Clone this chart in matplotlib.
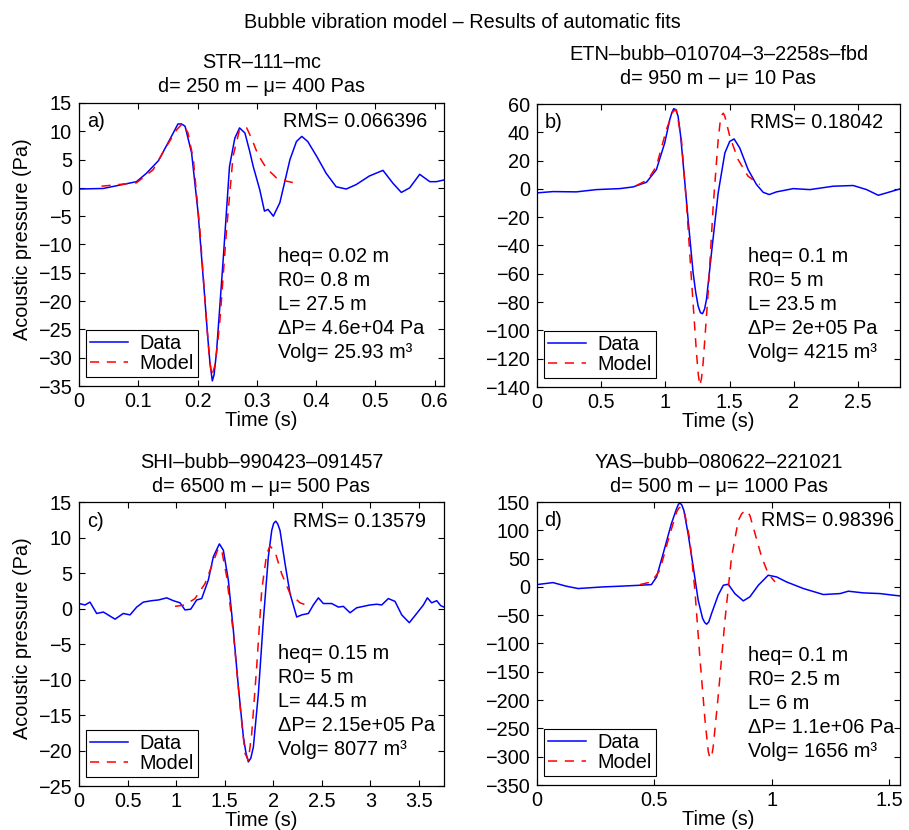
import matplotlib
matplotlib.use("Agg")
import matplotlib.pyplot as plt
from matplotlib.ticker import FuncFormatter

plt.rcParams['font.family'] = ['Liberation Sans', 'DejaVu Sans']
plt.rcParams['axes.unicode_minus'] = True

# ---------------- data ----------------
# panel a
a_data_t = [0, 0.041, 0.097, 0.114, 0.134, 0.153, 0.167, 0.173, 0.179, 0.19, 0.201, 0.212, 0.217, 0.221,
            0.225, 0.228, 0.232, 0.243, 0.254, 0.263, 0.271, 0.28, 0.288, 0.294, 0.305, 0.313, 0.319,
            0.328, 0.339, 0.356, 0.367, 0.376, 0.386, 0.401, 0.417, 0.434, 0.451, 0.468, 0.49, 0.513,
            0.53, 0.544, 0.558, 0.575, 0.592, 0.603, 0.616]
a_data_p = [-0.2, -0.1, 1.1, 2.6, 4.8, 8.5, 11.3, 11.3, 10.9, 6.2, -4.4, -19.1, -26.0, -30.9,
            -34.1, -33.0, -29.1, -13.2, 3.8, 8.8, 10.6, 9.7, 6.5, 3.8, -0.3, -4.1, -3.8,
            -5.0, -2.6, 5.0, 8.2, 9.1, 8.2, 5.6, 2.6, 0.2, -0.2, 0.6, 2.1, 3.1,
            0.8, -0.8, 0.0, 2.4, 1.1, 1.1, 1.4]
a_model_t = [0.038, 0.097, 0.125, 0.148, 0.165, 0.175, 0.184, 0.193, 0.204, 0.215, 0.22, 0.224, 0.229,
             0.234, 0.238, 0.249, 0.26, 0.271, 0.283, 0.291, 0.302, 0.316, 0.333, 0.35, 0.367]
a_model_p = [0.3, 0.9, 3.2, 7.4, 10.3, 11.4, 9.7, 5.0, -7.4, -23.2, -30.0, -33.2, -31.5,
             -27.5, -23.2, -7.4, 5.6, 10.3, 10.6, 8.8, 5.9, 3.5, 1.8, 1.2, 0.8]

# panel b
b_data_t = [0, 0.125, 0.306, 0.462, 0.644, 0.748, 0.852, 0.929, 0.994, 1.033, 1.05, 1.064, 1.08, 1.098,
            1.117, 1.137, 1.176, 1.215, 1.235, 1.254, 1.272, 1.288, 1.304, 1.319, 1.358, 1.41, 1.462,
            1.5, 1.534, 1.578, 1.643, 1.708, 1.76, 1.807, 1.864, 1.994, 2.124, 2.305, 2.461, 2.565,
            2.656, 2.721, 2.825]
b_data_p = [-2.8, -1.9, -2.1, -0.5, 0.2, 1.4, 4.7, 13.6, 32.5, 48.9, 54.0, 56.7, 56.0, 51.3,
            38.0, 18.4, -21.6, -59.3, -73.0, -82.8, -87.5, -88.2, -85.0, -78.1, -45.2, -2.8, 25.4,
            33.6, 35.3, 28.9, 13.6, 3.1, -2.4, -4.0, -2.1, 0.2, -0.5, 1.9, 2.4, -0.5,
            -4.5, -2.8, 0.0]
b_model_t = [0.774, 0.864, 0.929, 1.007, 1.059, 1.085, 1.124, 1.163, 1.202, 1.241, 1.255, 1.267, 1.28,
             1.293, 1.332, 1.371, 1.41, 1.425, 1.441, 1.45, 1.462, 1.5, 1.565, 1.643, 1.734]
b_model_p = [2.4, 6.6, 16.0, 41.9, 54.8, 56.0, 34.8, -9.9, -64.0, -115.8, -131.0, -139.0, -134.0,
             -122.8, -73.4, -12.2, 34.8, 47.0, 52.5, 53.5, 51.3, 37.2, 20.7, 8.9, 3.1]

# panel c
c_data_t = [0, 0.062, 0.113, 0.182, 0.251, 0.371, 0.456, 0.525, 0.594, 0.662, 0.748, 0.817, 0.903,
            0.971, 1.04, 1.091, 1.15, 1.211, 1.263, 1.331, 1.383, 1.445, 1.486, 1.537, 1.589, 1.64,
            1.692, 1.718, 1.743, 1.768, 1.795, 1.846, 1.898, 1.949, 1.984, 2.004, 2.025, 2.046, 2.069,
            2.121, 2.172, 2.241, 2.292, 2.361, 2.412, 2.464, 2.515, 2.601, 2.67, 2.721, 2.79, 2.858,
            2.927, 2.996, 3.064, 3.116, 3.184, 3.253, 3.322, 3.4, 3.476, 3.545, 3.586, 3.63, 3.682,
            3.723, 3.757]
c_data_p = [0.7, 0.5, 0.9, -0.7, -0.5, -1.5, -0.7, -0.9, 0.2, 0.9, 1.1, 1.2, 1.5,
            1.1, 0.8, -0.2, -0.1, 1.2, 1.4, 4.0, 7.3, 9.1, 8.2, 4.0, -3.1, -11.0,
            -18.1, -20.3, -21.6, -21.1, -19.5, -12.0, -1.6, 7.3, 11.0, 12.0, 12.3, 11.9, 11.0,
            6.3, 2.1, -1.2, -0.9, -0.7, 0.5, 1.5, 0.7, 0.7, 0.2, 0.3, -0.6, 0.1,
            0.3, 0.5, 0.6, 0.5, 1.4, 1.0, -0.9, -2.0, -0.7, 0.5, 1.5, 0.8, 1.1,
            0.4, 0.2]
c_model_t = [0.988, 1.091, 1.194, 1.297, 1.383, 1.434, 1.469, 1.52, 1.589, 1.658, 1.709, 1.743,
             1.778, 1.829, 1.881, 1.932, 1.966, 2.018, 2.086, 2.172, 2.275, 2.378]
c_model_p = [0.3, 0.5, 1.4, 3.5, 6.6, 8.5, 8.2, 4.5, -3.5, -13.8, -20.4, -21.4,
             -17.6, -8.2, 2.6, 7.7, 8.8, 8.0, 4.9, 2.1, 0.8, 0.3]

# panel d
d_data_t = [0, 0.068, 0.125, 0.175, 0.281, 0.352, 0.438, 0.487, 0.509, 0.537, 0.572, 0.594, 0.602,
            0.608, 0.616, 0.625, 0.643, 0.665, 0.686, 0.705, 0.714, 0.722, 0.731, 0.743, 0.771, 0.793,
            0.814, 0.842, 0.878, 0.906, 0.942, 0.984, 1.02, 1.062, 1.134, 1.219, 1.29, 1.325, 1.389,
            1.46, 1.517, 1.545]
d_data_p = [4.1, 7.6, 1.2, -2.9, 0.0, 1.2, 2.9, 4.1, 17.6, 58.8, 111.7, 138.2, 146.0,
            148.2, 145.0, 135.2, 94.1, 35.3, -23.5, -55.9, -63.0, -65.9, -62.0, -47.0, -14.7, 2.9,
            4.7, -11.8, -24.7, -17.6, 2.9, 20.6, 17.6, 8.8, -2.9, -13.5, -11.8, -7.6, -10.6,
            -11.8, -14.7, -15.9]
d_model_t = [0.438, 0.487, 0.523, 0.558, 0.594, 0.603, 0.611, 0.62, 0.629, 0.651, 0.672, 0.693, 0.715,
             0.729, 0.734, 0.739, 0.744, 0.75, 0.771, 0.8, 0.828, 0.857, 0.871, 0.885, 0.895, 0.906,
             0.928, 0.956, 0.984, 1.013]
d_model_p = [4.1, 8.8, 29.4, 82.3, 132.3, 139.0, 141.1, 137.0, 129.4, 82.3, -5.9, -123.5, -235.2,
             -291.1, -299.0, -302.9, -298.0, -282.3, -194.1, -58.8, 52.9, 117.6, 129.0, 135.2, 133.0,
             126.4, 94.1, 52.9, 23.5, 8.8]

panel_letters = ['a)', 'b)', 'c)', 'd)']
station_titles = ['STR–111–mc', 'ETN–bubb–010704–3–2258s–fbd',
                  'SHI–bubb–990423–091457', 'YAS–bubb–080622–221021']
subtitles = ['d= 250 m – μ= 400 Pas', 'd= 950 m – μ= 10 Pas',
             'd= 6500 m – μ= 500 Pas', 'd= 500 m – μ= 1000 Pas']
rms_labels = ['RMS= 0.066396', 'RMS= 0.18042', 'RMS= 0.13579', 'RMS= 0.98396']
param_labels = [
    ['heq= 0.02 m', 'R0= 0.8 m', 'L= 27.5 m', 'ΔP= 4.6e+04 Pa', 'Volg= 25.93 m³'],
    ['heq= 0.1 m', 'R0= 5 m', 'L= 23.5 m', 'ΔP= 2e+05 Pa', 'Volg= 4215 m³'],
    ['heq= 0.15 m', 'R0= 5 m', 'L= 44.5 m', 'ΔP= 2.15e+05 Pa', 'Volg= 8077 m³'],
    ['heq= 0.1 m', 'R0= 2.5 m', 'L= 6 m', 'ΔP= 1.1e+06 Pa', 'Volg= 1656 m³'],
]
xlims = [(0, 0.616), (0, 2.825), (0, 3.757), (0, 1.545)]
ylims = [(-35, 15), (-140, 60), (-25, 15), (-350, 150)]
xticks = [[0, 0.1, 0.2, 0.3, 0.4, 0.5, 0.6], [0, 0.5, 1, 1.5, 2, 2.5],
          [0, 0.5, 1, 1.5, 2, 2.5, 3, 3.5], [0, 0.5, 1, 1.5]]
yticks = [list(range(-35, 16, 5)), list(range(-140, 61, 20)),
          list(range(-25, 16, 5)), list(range(-350, 151, 50))]

# ---------------- layout ----------------
W, H = 909, 830
fig = plt.figure(figsize=(W / 100, H / 100), dpi=100)
FS = 14.3

# pixel boxes: left, right, top, bottom
boxes = [(79, 444, 103, 386), (537, 900, 104, 387), (79, 444, 502, 786), (537, 900, 502, 785)]
rms_x = [0.559, 0.587, 0.585, 0.616]
par_x = [0.545, 0.581, 0.545, 0.581]
par_top = [0.457, 0.46, 0.465, 0.459]
title_y = [(62, 86), (55, 79), (462, 486), (462, 486)]

datasets = [(a_data_t, a_data_p, a_model_t, a_model_p),
            (b_data_t, b_data_p, b_model_t, b_model_p),
            (c_data_t, c_data_p, c_model_t, c_model_p),
            (d_data_t, d_data_p, d_model_t, d_model_p)]

fmt = FuncFormatter(lambda v, p: ('%g' % v).replace('-', '\u2212'))

for i in range(4):
    l, r, t, b = boxes[i]
    ax = fig.add_axes([l / W, 1 - b / H, (r - l) / W, (b - t) / H])
    dt, dp, mt, mp = datasets[i]
    ax.plot(dt, dp, color='#0000ff', lw=1.1, label='Data', solid_joinstyle='round')
    ax.plot(mt, mp, color='#ff0000', lw=1.1, linestyle=(0, (6, 5)), label='Model')
    ax.set_xlim(*xlims[i])
    ax.set_ylim(*ylims[i])
    ax.set_xticks(xticks[i])
    ax.set_yticks(yticks[i])
    ax.xaxis.set_major_formatter(fmt)
    ax.yaxis.set_major_formatter(fmt)
    ax.tick_params(direction='in', length=4, width=0.8, top=True, right=True,
                   labelsize=FS, pad=5, colors='black')
    ax.tick_params(axis='x', pad=4)
    for s in ax.spines.values():
        s.set_linewidth(0.9)
    ax.set_xlabel('Time (s)', fontsize=FS, labelpad=0)
    if i % 2 == 0:
        ax.set_ylabel('Acoustic pressure (Pa)', fontsize=FS)
        ax.yaxis.set_label_coords(-0.129, 0.52)
    ax.text(0.021, 0.933, panel_letters[i], transform=ax.transAxes, fontsize=FS,
            ha='left', va='center')
    ax.text(rms_x[i], 0.933, rms_labels[i], transform=ax.transAxes, fontsize=FS,
            ha='left', va='center')
    step = 24.0 / (b - t)
    for k, line in enumerate(param_labels[i]):
        ax.text(par_x[i], par_top[i] - k * step, line, transform=ax.transAxes,
                fontsize=FS, ha='left', va='center')
    leg = ax.legend(loc='lower left', bbox_to_anchor=(7 / (r - l), 9 / (b - t)),
                    borderaxespad=0, fontsize=FS, fancybox=False, framealpha=1,
                    edgecolor='black', labelspacing=0.05, borderpad=0.2,
                    handlelength=1.9, handletextpad=0.6)
    leg.get_frame().set_linewidth(0.8)
    cx = (l + r) / 2 / W
    fig.text(cx, 1 - title_y[i][0] / H, station_titles[i], ha='center', va='center', fontsize=FS)
    fig.text(cx, 1 - title_y[i][1] / H, subtitles[i], ha='center', va='center', fontsize=FS)

fig.text(462 / W, 1 - 23 / H, 'Bubble vibration model – Results of automatic fits',
         ha='center', va='center', fontsize=FS)

fig.savefig('out.png', dpi=100)
